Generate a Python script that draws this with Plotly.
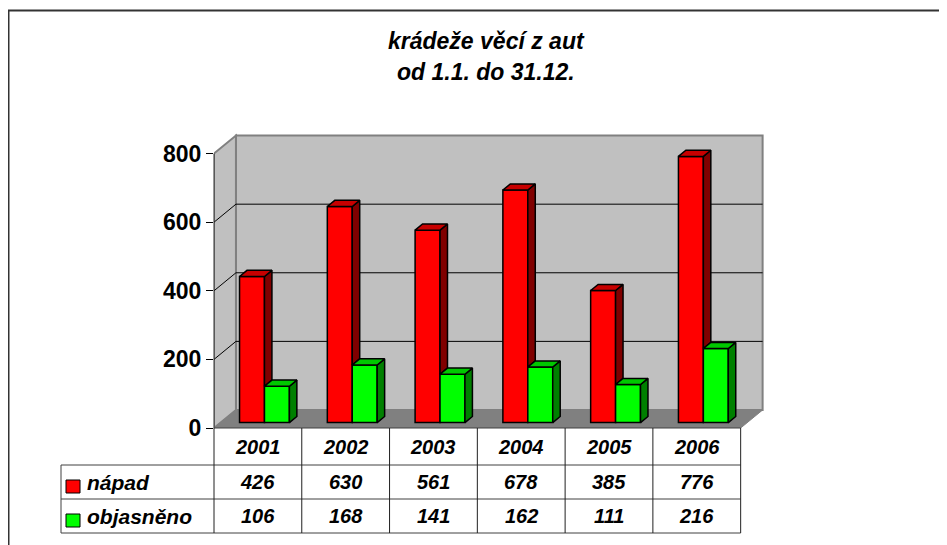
import plotly.graph_objects as go

# ---------------- data ----------------
years = ["2001", "2002", "2003", "2004", "2005", "2006"]
napad = [426, 630, 561, 678, 385, 776]
objasneno = [106, 168, 141, 162, 111, 216]
series_names = ["nápad", "objasněno"]
y_ticks = [0, 200, 400, 600, 800]
title_lines = ["krádeže věcí z aut", "od 1.1. do 31.12."]

# ---------------- geometry / style ----------------
W_FIG, H_FIG = 947, 545
OFF = 8             # page body margin: screen px = figure px + OFF
FONT = "Liberation Sans, Arial, sans-serif"
X0, X1 = 0.0, 6.3
Y0, Y1 = 0.0, 860.0
SX = 87.84          # px per category unit
SY = 0.3425         # px per value unit
L = 214 - OFF
B = H_FIG - (428 - OFF)
R = round(W_FIG - L - (X1 - X0) * SX)
T = round(H_FIG - B - (Y1 - Y0) * SY)
PW = W_FIG - L - R
PH = H_FIG - T - B

DEPTH_X = 0.25      # wall depth, category units
DEPTH_Y = 52.5      # wall depth, value units
BAR_W = 0.284
F0, F1 = 0.30, 0.64  # bar depth (fractions of wall depth)
YMAX = y_ticks[-1]


def px_x(px):
    """screen x (as in reference) -> paper x"""
    return (px - OFF - L) / PW


def px_y(py):
    """screen y (as in reference) -> paper y"""
    return (H_FIG - B - (py - OFF)) / PH


def dx_paper(u):
    return (u - X0) / (X1 - X0)


def dy_to_px(v):
    """data value -> screen y"""
    return H_FIG - B - (v - Y0) / (Y1 - Y0) * PH + OFF


n = len(years)
fx, fy = F0 * DEPTH_X, F0 * DEPTH_Y
bdx, bdy = (F1 - F0) * DEPTH_X, (F1 - F0) * DEPTH_Y

series = [
    dict(name=series_names[0], vals=napad, off=-BAR_W / 2,
         front="#ff0000", side="#800000", top="#c80000"),
    dict(name=series_names[1], vals=objasneno, off=BAR_W / 2,
         front="#00ff00", side="#008000", top="#00c800"),
]

fig = go.Figure()

# front faces as bars
for s in series:
    xs = [i + 0.5 + s["off"] + fx for i in range(n)]
    fig.add_trace(go.Bar(
        x=xs, y=s["vals"], base=fy, width=BAR_W, name=s["name"],
        marker=dict(color=s["front"], line=dict(color="black", width=1.5)),
        hoverinfo="skip", showlegend=False,
    ))

# side & top faces
for k, s in enumerate(series):
    sx, sy, tx, ty = [], [], [], []
    for i in range(n):
        v = s["vals"][i]
        xl = i + 0.5 + s["off"] + fx - BAR_W / 2
        xr = xl + BAR_W
        if k + 1 < len(series):
            low = min(series[k + 1]["vals"][i], v)
        else:
            low = 0
        sx += [xr, xr + bdx, xr + bdx, xr, xr, None]
        sy += [fy + low, fy + low + bdy, fy + v + bdy, fy + v, fy + low, None]
        tx += [xl, xl + bdx, xr + bdx, xr, xl, None]
        ty += [fy + v, fy + v + bdy, fy + v + bdy, fy + v, fy + v, None]
    fig.add_trace(go.Scatter(x=sx, y=sy, mode="lines", fill="toself",
                             fillcolor=s["side"], line=dict(color="black", width=1.5),
                             hoverinfo="skip", showlegend=False))
    fig.add_trace(go.Scatter(x=tx, y=ty, mode="lines", fill="toself",
                             fillcolor=s["top"], line=dict(color="black", width=1.5),
                             hoverinfo="skip", showlegend=False))

shapes = []
WALL = "#c0c0c0"
EDGE = "#808080"
# back wall
shapes.append(dict(type="rect", xref="x", yref="y", x0=DEPTH_X, x1=n + DEPTH_X,
                   y0=DEPTH_Y, y1=YMAX + DEPTH_Y, fillcolor=WALL,
                   line=dict(color=EDGE, width=2), layer="below"))
# side wall
shapes.append(dict(type="path", xref="x", yref="y",
                   path=f"M 0,0 L {DEPTH_X},{DEPTH_Y} L {DEPTH_X},{YMAX + DEPTH_Y} L 0,{YMAX} Z",
                   fillcolor=WALL, line=dict(color=EDGE, width=2), layer="below"))
# floor
shapes.append(dict(type="path", xref="x", yref="y",
                   path=f"M 0,0 L {n},0 L {n + DEPTH_X},{DEPTH_Y} L {DEPTH_X},{DEPTH_Y} Z",
                   fillcolor=EDGE, line=dict(color=EDGE, width=1), layer="below"))
# gridlines
for v in y_ticks[1:-1]:
    shapes.append(dict(type="path", xref="x", yref="y",
                       path=f"M 0,{v} L {DEPTH_X},{v + DEPTH_Y} L {n + DEPTH_X},{v + DEPTH_Y}",
                       line=dict(color="black", width=1), layer="below"))

# front value axis line
shapes.append(dict(type="line", xref="paper", yref="paper",
                   x0=dx_paper(0), x1=dx_paper(0), y0=0, y1=(YMAX - Y0) / (Y1 - Y0),
                   line=dict(color="#303030", width=1)))

# ---------------- data table ----------------
TLINE = dict(color="#404040", width=1)
row_top = dy_to_px(0)
HEADER_H = 37
ROW_H = 34
row_lines = [row_top, row_top + HEADER_H, row_top + HEADER_H + ROW_H,
             row_top + HEADER_H + 2 * ROW_H]
LEG_LEFT = 61
tab_left = dx_paper(0)
tab_right = dx_paper(n)
# top (floor front edge)
shapes.append(dict(type="line", xref="paper", yref="paper", x0=tab_left, x1=tab_right,
                   y0=px_y(row_lines[0]), y1=px_y(row_lines[0]), line=TLINE))
for py in row_lines[1:]:
    shapes.append(dict(type="line", xref="paper", yref="paper", x0=px_x(LEG_LEFT), x1=tab_right,
                       y0=px_y(py), y1=px_y(py), line=TLINE))
for i in range(n + 1):
    shapes.append(dict(type="line", xref="paper", yref="paper", x0=dx_paper(i), x1=dx_paper(i),
                       y0=px_y(row_lines[0]), y1=px_y(row_lines[-1]),
                       line=dict(color="#202020", width=1)))
shapes.append(dict(type="line", xref="paper", yref="paper", x0=px_x(LEG_LEFT), x1=px_x(LEG_LEFT),
                   y0=px_y(row_lines[1]), y1=px_y(row_lines[-1]), line=TLINE))

# legend keys
for k, s in enumerate(series):
    top = row_lines[1 + k] + 15
    shapes.append(dict(type="rect", xref="paper", yref="paper",
                       x0=px_x(66), x1=px_x(80), y0=px_y(top), y1=px_y(top + 13),
                       fillcolor=s["front"], line=dict(color="black", width=1)))

# outer frame
shapes.append(dict(type="rect", xref="paper", yref="paper",
                   x0=px_x(OFF + 0.5), x1=px_x(1000), y0=px_y(10.5), y1=px_y(620),
                   line=dict(color="#333333", width=2), fillcolor="rgba(0,0,0,0)", layer="below"))

annotations = []
tfont = dict(family=FONT, size=20, color="black", weight="bold", style="italic")
lfont = dict(family=FONT, size=21, color="black", weight="bold", style="italic")
# header years
for i, yv in enumerate(years):
    annotations.append(dict(xref="x", yref="paper", x=i + 0.5, y=px_y((row_lines[0] + row_lines[1]) / 2),
                            text=yv, showarrow=False, font=tfont, xanchor="center", yanchor="middle"))
for k, s in enumerate(series):
    yc = px_y((row_lines[1 + k] + row_lines[2 + k]) / 2)
    for i, v in enumerate(s["vals"]):
        annotations.append(dict(xref="x", yref="paper", x=i + 0.5, y=yc, text=str(v),
                                showarrow=False, font=tfont, xanchor="center", yanchor="middle"))
    annotations.append(dict(xref="paper", yref="paper", x=px_x(85), y=yc, text=s["name"],
                            showarrow=False, font=lfont, xanchor="left", yanchor="middle"))

# title
title_font = dict(family=FONT, size=23, color="black", weight="bold", style="italic")
for j, (line, py) in enumerate(zip(title_lines, [41, 72])):
    annotations.append(dict(xref="paper", yref="paper", x=px_x(486), y=px_y(py), text=line,
                            showarrow=False, font=title_font, xanchor="center", yanchor="middle"))

fig.update_layout(
    template="none",
    width=W_FIG, height=H_FIG,
    margin=dict(l=L, r=R, t=T, b=B, pad=0),
    paper_bgcolor="white", plot_bgcolor="rgba(0,0,0,0)",
    barmode="overlay", showlegend=False,
    shapes=shapes, annotations=annotations,
    xaxis=dict(range=[X0, X1], visible=False, fixedrange=True, automargin=False),
    yaxis=dict(range=[Y0, Y1], tickvals=y_ticks, ticks="outside", ticklen=7, tickwidth=1,
               tickcolor="black", showgrid=False, zeroline=False, showline=False,
               tickfont=dict(family=FONT, size=23, color="black", weight="bold"),
               automargin=False, fixedrange=True),
)

fig.write_html("out.html")
